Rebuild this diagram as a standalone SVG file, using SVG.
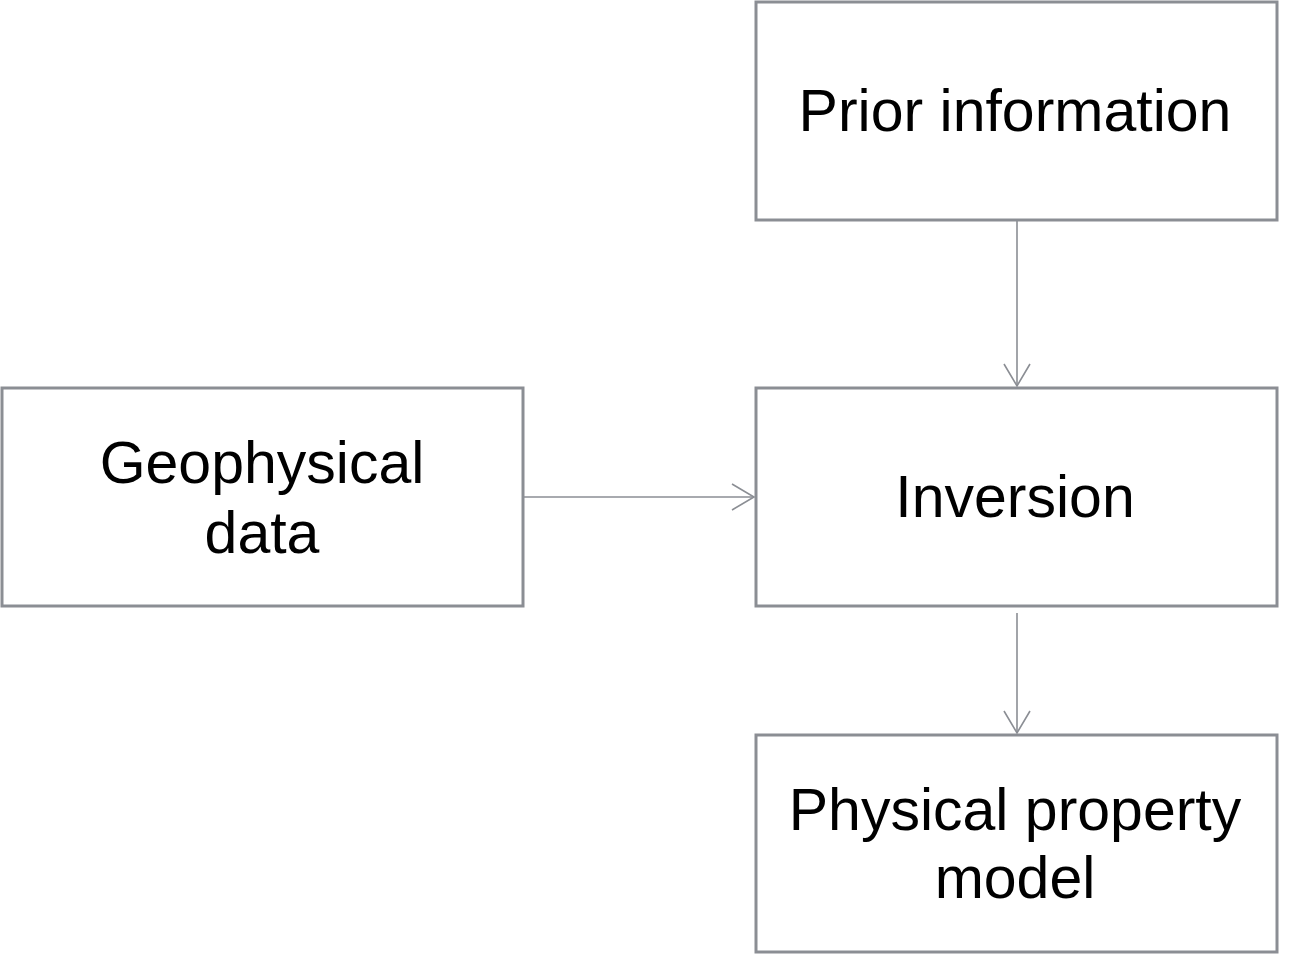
<svg xmlns="http://www.w3.org/2000/svg" width="1295" height="955" viewBox="0 0 1295 955">
<defs>
<style>
.box{fill:#ffffff;stroke:#8b8e94;stroke-width:3}
.lbl{font-family:"Liberation Sans",Arial,sans-serif;font-size:59px;fill:#000000;text-anchor:middle}
.edge{stroke:#8b8e94;stroke-width:1.6;fill:none}
</style>
<marker id="arr" viewBox="0 0 28 28" refX="25" refY="14" markerWidth="28" markerHeight="28" markerUnits="userSpaceOnUse" orient="auto">
<path d="M3,1 L25,14 L3,27" fill="none" stroke="#8b8e94" stroke-width="1.6"/>
</marker>
</defs>
<rect width="1295" height="955" fill="#ffffff"/>
<g id="prior">
<rect class="box" x="756" y="2" width="521" height="218"/>
<text class="lbl" x="1015" y="131">Prior information</text>
</g>
<g id="geo">
<rect class="box" x="2" y="388" width="521" height="218"/>
<text class="lbl" x="262" y="483">Geophysical</text>
<text class="lbl" x="262" y="553">data</text>
</g>
<g id="inversion">
<rect class="box" x="756" y="388" width="521" height="218"/>
<text class="lbl" x="1015" y="517">Inversion</text>
</g>
<g id="model">
<rect class="box" x="756" y="735" width="521" height="217"/>
<text class="lbl" x="1015" y="830">Physical property</text>
<text class="lbl" x="1015" y="898">model</text>
</g>
<g id="connectors">
<line class="edge" x1="1017" y1="221" x2="1017" y2="386" marker-end="url(#arr)"/>
<line class="edge" x1="524" y1="497" x2="754" y2="497" marker-end="url(#arr)"/>
<line class="edge" x1="1017" y1="613" x2="1017" y2="733" marker-end="url(#arr)"/>
</g>
</svg>
